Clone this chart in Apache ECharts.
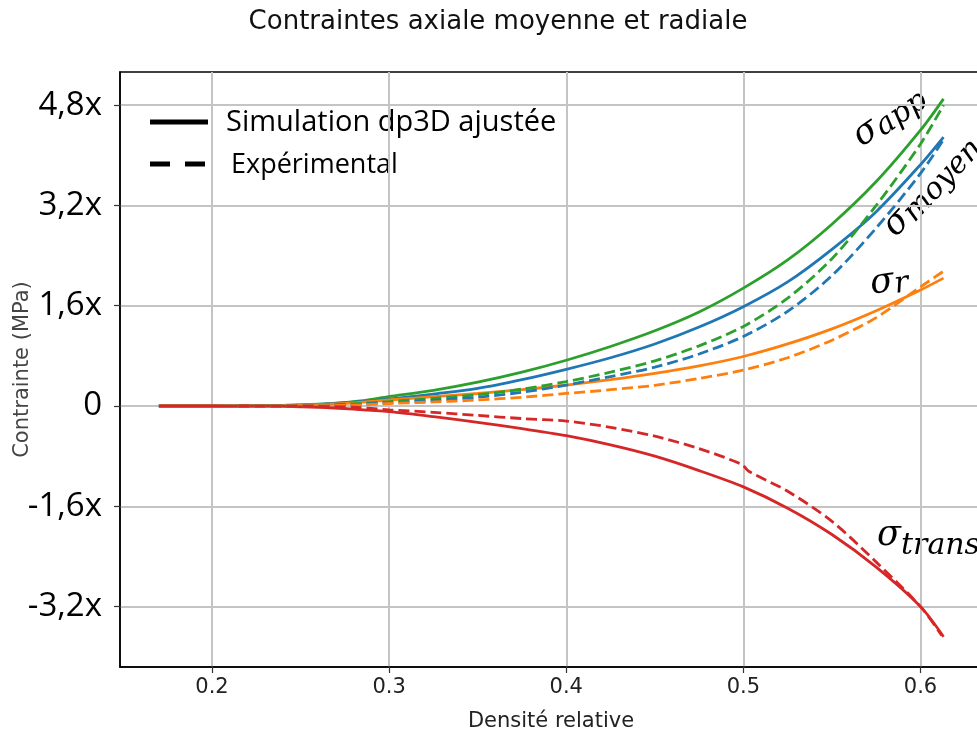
<!DOCTYPE html>
<html>
<head>
<meta charset="utf-8">
<script src="https://cdn.jsdelivr.net/npm/echarts@6/dist/echarts.min.js"></script>
<style>html,body{margin:0;padding:0;background:#fff}#c{width:977px;height:735px}</style>
</head>
<body>
<div id="c"></div>
<script>
// ---- data ----
const titleText = 'Contraintes axiale moyenne et radiale';
const xName = 'Densité relative';
const yName = 'Contrainte (MPa)';
const xTicks = [0.2, 0.3, 0.4, 0.5, 0.6];
const yTicks = [-3.2, -1.6, 0, 1.6, 3.2, 4.8];
const legendSim = 'Simulation dp3D ajustée';
const legendExp = 'Expérimental';

const xSim = [0.17,0.2,0.22,0.24,0.26,0.28,0.3,0.325,0.35,0.375,0.4,0.425,0.45,0.475,0.5,0.525,0.55,0.575,0.6,0.613];
const simApp   = [0,0,0.002,0.01,0.03,0.07,0.15,0.25,0.38,0.54,0.73,0.95,1.2,1.5,1.88,2.33,2.9,3.58,4.4,4.9];
const simMoyen = [0,0,0.002,0.008,0.025,0.06,0.11,0.19,0.28,0.42,0.585,0.77,0.99,1.26,1.585,1.98,2.5,3.1,3.85,4.29];
const simR     = [0,0,0.001,0.005,0.02,0.05,0.096,0.15,0.2,0.26,0.335,0.42,0.52,0.64,0.79,0.99,1.23,1.52,1.85,2.04];
const simTrans = [0,0,-0.001,-0.005,-0.02,-0.05,-0.09,-0.17,-0.26,-0.36,-0.474,-0.62,-0.8,-1.03,-1.29,-1.63,-2.05,-2.57,-3.2,-3.68];

const xExp = [0.215,0.24,0.26,0.28,0.3,0.325,0.35,0.375,0.4,0.425,0.45,0.475,0.5,0.525,0.55,0.575,0.6,0.613];
const expApp   = [0,0.003,0.01,0.035,0.07,0.12,0.18,0.27,0.39,0.54,0.72,0.96,1.27,1.72,2.35,3.2,4.18,4.8];
const expMoyen = [0,0.002,0.008,0.025,0.05,0.09,0.14,0.22,0.335,0.47,0.62,0.83,1.11,1.51,2.08,2.84,3.71,4.25];
const expR     = [0,0.001,0.005,0.015,0.04,0.065,0.096,0.14,0.2,0.26,0.33,0.44,0.574,0.77,1.05,1.41,1.9,2.15];
const xExpTrans = [0.215,0.24,0.26,0.28,0.3,0.325,0.35,0.375,0.4,0.425,0.45,0.475,0.499,0.503,0.525,0.55,0.575,0.6,0.612];
const expTrans  = [0,-0.001,-0.005,-0.02,-0.06,-0.1,-0.15,-0.2,-0.24,-0.34,-0.48,-0.68,-0.93,-1.04,-1.36,-1.84,-2.49,-3.2,-3.66];

const labels = [
  {sub: 'app',   x: 866, y: 133, rot: 35, dx: 12, dy: 5},
  {sub: 'moyen', x: 897, y: 223, rot: 47, dx: 12, dy: 5},
  {sub: 'r',     x: 882, y: 283, rot: 8,  dx: 12, dy: 4},
  {sub: 'trans', x: 889, y: 536, rot: 0,  dx: 12, dy: 10}
];

const cGreen = '#2ca02c', cBlue = '#1f77b4', cOrange = '#ff7f0e', cRed = '#d62728';

// ---- build ----
const zip = (xs, ys) => xs.map((x, i) => [x, ys[i]]);
function line(name, xs, ys, color, dashed) {
  return {
    name, type: 'line', data: zip(xs, ys), showSymbol: false, symbol: 'none',
    smooth: 0.3, silent: true,
    lineStyle: {color, width: 2.8, type: dashed ? [11, 5] : 'solid', cap: 'butt'},
    emphasis: {disabled: true}
  };
}
const fmtY = v => (Math.abs(v) < 1e-9 ? '0' : (v.toFixed(1).replace('.', ',') + 'x'));

const graphics = [
  {type: 'text', x: 498, y: 22, style: {text: titleText, font: '26px "DejaVu Sans"', fill: '#111', align: 'center', verticalAlign: 'middle'}},
  {type: 'line', shape: {x1: 150, y1: 122, x2: 208, y2: 122}, style: {stroke: '#000', lineWidth: 5}},
  {type: 'line', shape: {x1: 150, y1: 164, x2: 205, y2: 164}, style: {stroke: '#000', lineWidth: 5, lineDash: [20, 15]}},
  {type: 'text', x: 226, y: 123, style: {text: legendSim, font: '29px "Open Sans"', fill: '#000', align: 'left', verticalAlign: 'middle'}},
  {type: 'text', x: 231, y: 165, style: {text: legendExp, font: '27px "Open Sans"', fill: '#000', align: 'left', verticalAlign: 'middle'}}
];
labels.forEach(l => {
  graphics.push({
    type: 'group', x: l.x, y: l.y, rotation: l.rot * Math.PI / 180,
    children: [
      {type: 'text', x: 0, y: 0, style: {text: 'σ', font: 'italic 35px "DejaVu Serif"', fill: '#000', align: 'center', verticalAlign: 'middle'}},
      {type: 'text', x: l.dx, y: l.dy, style: {text: l.sub, font: 'italic 30px "DejaVu Serif"', fill: '#000', align: 'left', verticalAlign: 'middle'}}
    ]
  });
});

const chart = echarts.init(document.getElementById('c'), null, {renderer: 'canvas'});
chart.setOption({
  animation: false,
  backgroundColor: '#fff',
  grid: {left: 120, top: 72, right: -5, bottom: 68, show: true, borderColor: '#000', borderWidth: 1.5,
         containLabel: false, outerBoundsMode: 'none'},
  xAxis: {
    type: 'value', min: 0.14806, max: 0.63472,
    name: xName, nameLocation: 'middle', nameGap: 44, nameMoveOverlap: false,
    nameTextStyle: {fontFamily: 'DejaVu Sans', fontSize: 21, color: '#222'},
    axisLine: {show: true, onZero: false, lineStyle: {color: '#000', width: 1.5}},
    axisTick: {show: true, length: 6, customValues: xTicks, lineStyle: {color: '#333', width: 1.2}},
    axisLabel: {customValues: xTicks, fontFamily: 'DejaVu Sans', fontSize: 21, color: '#222', margin: 10, formatter: v => String(v)},
    splitLine: {show: true, lineStyle: {color: '#c4c4c4', width: 2}}
  },
  yAxis: {
    type: 'value', min: -4.163, max: 5.328,
    name: yName, nameLocation: 'middle', nameGap: 87, nameRotate: 90, nameMoveOverlap: false,
    nameTextStyle: {fontFamily: 'DejaVu Sans', fontSize: 21, color: '#444'},
    axisLine: {show: true, onZero: false, lineStyle: {color: '#000', width: 1.5}},
    axisTick: {show: true, length: 6, customValues: yTicks, lineStyle: {color: '#333', width: 1.2}},
    axisLabel: {customValues: yTicks, fontFamily: 'Open Sans', fontSize: 33, color: '#000', margin: 18, formatter: fmtY},
    splitLine: {show: true, lineStyle: {color: '#c4c4c4', width: 2}}
  },
  series: [
    line('σapp simulation', xSim, simApp, cGreen, false),
    line('σmoyen simulation', xSim, simMoyen, cBlue, false),
    line('σr simulation', xSim, simR, cOrange, false),
    line('σtrans simulation', xSim, simTrans, cRed, false),
    line('σapp expérimental', xExp, expApp, cGreen, true),
    line('σmoyen expérimental', xExp, expMoyen, cBlue, true),
    line('σr expérimental', xExp, expR, cOrange, true),
    line('σtrans expérimental', xExpTrans, expTrans, cRed, true)
  ],
  graphic: graphics
});
</script>
</body>
</html>
